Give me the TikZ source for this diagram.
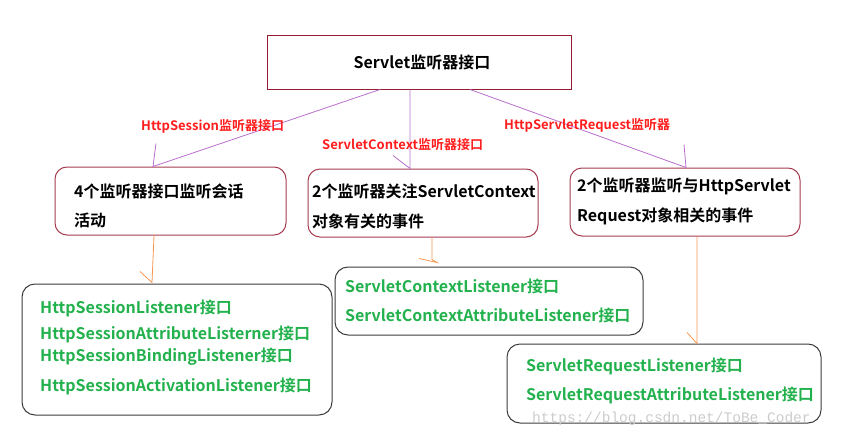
\documentclass[tikz,border=0pt]{standalone}
\usepackage{fontspec}
\setmainfont{Noto Sans CJK SC}[BoldFont={* Bold}]
\setmonofont{Liberation Mono}
\definecolor{topred}{RGB}{150,30,50}
\definecolor{midred}{RGB}{165,60,80}
\definecolor{lowgray}{RGB}{60,60,60}
\definecolor{linkpurple}{RGB}{185,110,205}
\definecolor{linkorange}{RGB}{250,150,80}
\definecolor{labred}{RGB}{255,30,30}
\definecolor{itemgreen}{RGB}{34,177,76}

\begin{document}
\begin{tikzpicture}[x=1pt,y=-1pt,
  topbox/.style={draw=topred,line width=1pt,inner sep=0pt,font=\fontsize{16}{19}\selectfont\bfseries},
  midbox/.style={draw=midred,line width=1pt,rounded corners=12pt,inner sep=0pt},
  lowbox/.style={draw=lowgray,line width=1pt,rounded corners=13pt,inner sep=0pt},
  midtxt/.style={anchor=west,inner sep=0pt,font=\fontsize{16}{19}\selectfont\bfseries},
  itemtxt/.style={midtxt,text=itemgreen},
  labtxt/.style={anchor=west,inner sep=0pt,text=labred,font=\fontsize{13}{15}\selectfont\bfseries},
  purpline/.style={draw=linkpurple,line width=0.8pt},
  orgline/.style={draw=linkorange,line width=0.8pt}]
\useasboundingbox (0,0) rectangle (856,447);

\path (419,62) node[topbox,minimum width=304pt,minimum height=54pt] (top) {\hspace{6pt}\raisebox{-3pt}{Servlet监听器接口}};

\path (170.5,201) node[midbox,minimum width=231pt,minimum height=68pt] (m1) {};
\path (74,191) node[midtxt] (m1a) {4个监听器接口监听会话};
\path (74,220) node[midtxt] (m1b) {活动};

\path (423,203) node[midbox,minimum width=230pt,minimum height=68pt] (m2) {};
\path (312,191) node[midtxt] (m2a) {2个监听器关注ServletContext};
\path (312,221) node[midtxt] (m2b) {对象有关的事件};

\path (685,202) node[midbox,minimum width=230pt,minimum height=68pt] (m3) {};
\path (577,186) node[midtxt] (m3a) {2个监听器监听与HttpServlet};
\path (577,216) node[midtxt] (m3b) {Request对象相关的事件};

\path (177,349.5) node[lowbox,minimum width=310pt,minimum height=131pt] (l1) {};
\path (40,308) node[itemtxt] (l1a) {HttpSessionListener接口};
\path (40,334) node[itemtxt] (l1b) {HttpSessionAttributeListerner接口};
\path (40,357) node[itemtxt] (l1c) {HttpSessionBindingListener接口};
\path (40,386) node[itemtxt] (l1d) {HttpSessionActivationListener接口};

\path (489,301) node[lowbox,minimum width=308pt,minimum height=68pt] (l2) {};
\path (345,286) node[itemtxt] (l2a) {ServletContextListener接口};
\path (345,315) node[itemtxt] (l2b) {ServletContextAttributeListener接口};

\path (664,383.5) node[lowbox,minimum width=314pt,minimum height=79pt] (l3) {};
\path (526,366) node[itemtxt] (l3a) {ServletRequestListener接口};
\path (526,395) node[itemtxt] (l3b) {ServletRequestAttributeListener接口};
\path (532,419) node[anchor=west,inner sep=0pt,text=black!20,font=\fontsize{14.5}{16}\selectfont\ttfamily] (mark) {https://blog.csdn.net/ToBe\_Coder};

\draw[purpline] ([xshift=-39pt]top.south) -- ([xshift=-17.5pt]m1.north) -- ++(3,-23);
\draw[purpline] ([xshift=-9pt]top.south) -- ([xshift=-13pt]m2.north) -- ++(-17,-13);
\draw[purpline] ([xshift=51pt]top.south) -- ([xshift=1pt]m3.north) -- ++(-2,-23);

\path (141,126) node[labtxt] (lab1) {HttpSession监听器接口};
\path (322,145) node[labtxt] (lab2) {ServletContext监听器接口};
\path (504,125) node[labtxt] (lab3) {HttpServletRequest监听器};

\draw[orgline] ([xshift=-16.5pt]m1.south) -- ([xshift=-25pt,yshift=1pt]l1.north) -- ++(-12,-11);
\draw[orgline] ([xshift=9pt]m2.south) -- ++(0,22) -- ([xshift=-52pt,yshift=4pt]l2.north) -- ++(-18,-4);
\draw[orgline] ([xshift=12pt]m3.south) -- ([xshift=33pt]l3.north) -- ++(-10,-11);
\end{tikzpicture}
\end{document}
